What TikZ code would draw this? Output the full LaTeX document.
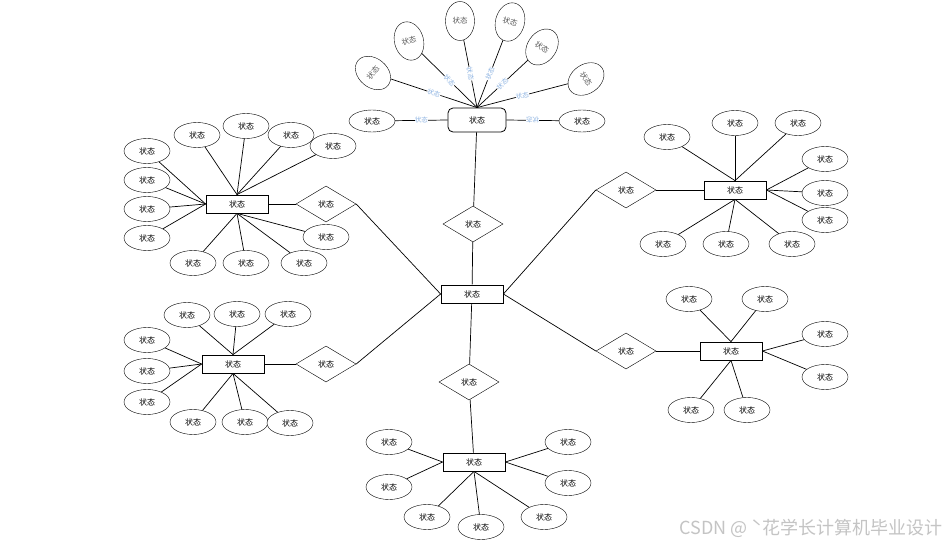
\documentclass[tikz,border=0pt]{standalone}
\usepackage{fontspec}
\usepackage{tikz}
\usepackage{xcolor}
\usetikzlibrary{shapes.geometric}
\newfontfamily\cjk{Noto Sans CJK SC}
\definecolor{edgeblue}{HTML}{8DB3E2}
\definecolor{markgray}{HTML}{C4C4C4}

\begin{document}
\begin{tikzpicture}[
      x=1pt, y=-1pt,
      every node/.style={font=\cjk\fontsize{8}{9}\selectfont},
      ent/.style={draw, thick, fill=white, minimum width=62pt, minimum height=18pt, inner sep=1pt},
      rel/.style={draw, diamond, fill=white, minimum width=60pt, minimum height=36pt, inner sep=1pt},
      attr/.style={draw, ellipse, fill=white, minimum width=46pt, minimum height=25pt, inner sep=1pt},
      fan/.style={draw, ellipse, fill=white, minimum width=29pt, minimum height=39pt, inner sep=1pt,
                  text=black!65, font=\cjk\fontsize{7.5}{9}\selectfont},
      elab/.style={text=edgeblue, fill=white, inner sep=0.3pt, font=\cjk\fontsize{6.5}{7}\selectfont},
      conn/.style={line width=0.7pt}
    ]
    \useasboundingbox[fill=white] (0,0) rectangle (951,546);

    % entities and relationships
    \node[ent] (hub) at (472,294) {状态};
    \node[ent, rounded corners=5pt, minimum width=58pt, minimum height=24pt] (top) at (477,120) {状态};
    \node[ent] (lu) at (237,204) {状态};
    \node[ent] (ru) at (735,190) {状态};
    \node[ent] (ll) at (233,364) {状态};
    \node[ent] (rl) at (731,351) {状态};
    \node[ent] (bot) at (474,462) {状态};

    \node[rel] (rtop) at (473,224) {状态};
    \node[rel] (rbot) at (469,382) {状态};
    \node[rel] (rlu)  at (326,204) {状态};
    \node[rel] (rru)  at (626,190) {状态};
    \node[rel] (rll)  at (326,364) {状态};
    \node[rel] (rrl)  at (626,351) {状态};

    \draw[conn] (top) -- (rtop) -- (hub) -- (rbot) -- (bot);
    \draw[conn] (lu) -- (rlu.west);
    \draw[conn] (rlu.east) -- (hub.west);
    \draw[conn] (ll) -- (rll.west);
    \draw[conn] (rll.east) -- (hub.west);
    \draw[conn] (hub.east) -- (rru.west);
    \draw[conn] (rru.east) -- (ru);
    \draw[conn] (hub.east) -- (rrl.west);
    \draw[conn] (rrl.east) -- (rl);

    % top fan of attributes
    \node[fan, rotate=50]  (tp1) at (373,73) {状态};
    \node[fan, rotate=15]  (tp2) at (409,41) {状态};
    \node[fan]             (tp3) at (460,21) {状态};
    \node[fan, rotate=-15] (tp4) at (510,22) {状态};
    \node[fan, rotate=-35] (tp5) at (542,47) {状态};
    \node[fan, rotate=-55] (tp6) at (586,79) {状态};
    \foreach \i in {1,...,6}
      \draw[conn] (tp\i) -- node[elab, sloped] {状态} (top.north);
    \node[attr, minimum height=22pt] (tpl) at (372,121) {状态};
    \node[attr, minimum height=22pt] (tpr) at (582,121) {状态};
    \draw[conn] (tpl) -- node[elab] {状态} (top.west);
    \draw[conn] (top.east) -- node[elab, rotate=180] {状态} (tpr);

    % left upper cluster
    \foreach \pos/\side [count=\i] in {{(147,151)}/west, {(147,180)}/west, {(147,209)}/west,
        {(147,238)}/west, {(197,135)}/north, {(246,126)}/north, {(291,135)}/north,
        {(333,146)}/north, {(326,237)}/south, {(193,263)}/south, {(246,263)}/south,
        {(304,263)}/south}{
      \node[attr] (lua\i) at \pos {状态};
      \draw[conn] (lua\i) -- (lu.\side);
    }

    % right upper cluster
    \foreach \pos/\side [count=\i] in {{(667,137)}/north, {(735,123)}/north, {(798,123)}/north,
        {(825,159)}/east, {(825,193)}/east, {(825,220)}/east, {(663,244)}/south,
        {(726,244)}/south, {(792,244)}/south}{
      \node[attr] (rua\i) at \pos {状态};
      \draw[conn] (rua\i) -- (ru.\side);
    }

    % left lower cluster
    \foreach \pos/\side [count=\i] in {{(187,315)}/north, {(237,314)}/north, {(288,314)}/north,
        {(147,340)}/west, {(147,371)}/west, {(147,402)}/west, {(193,422)}/south,
        {(245,422)}/south, {(290,423)}/south}{
      \node[attr] (lla\i) at \pos {状态};
      \draw[conn] (lla\i) -- (ll.\side);
    }

    % right lower cluster
    \foreach \pos/\side [count=\i] in {{(689,299)}/north, {(765,299)}/north, {(825,334)}/east,
        {(825,377)}/east, {(691,410)}/south, {(747,410)}/south}{
      \node[attr] (rla\i) at \pos {状态};
      \draw[conn] (rla\i) -- (rl.\side);
    }

    % bottom cluster
    \foreach \pos/\side [count=\i] in {{(389,442)}/west, {(389,487)}/west, {(427,517)}/south,
        {(481,527)}/south, {(544,517)}/south, {(568,442)}/east, {(568,483)}/east}{
      \node[attr] (ba\i) at \pos {状态};
      \draw[conn] (ba\i) -- (bot.\side);
    }

    \node[anchor=east, text=markgray, font=\cjk\fontsize{18}{20}\selectfont] (mark) at (946,528) {CSDN @ ˋ花学长计算机毕业设计};
  \end{tikzpicture}
\end{document}
